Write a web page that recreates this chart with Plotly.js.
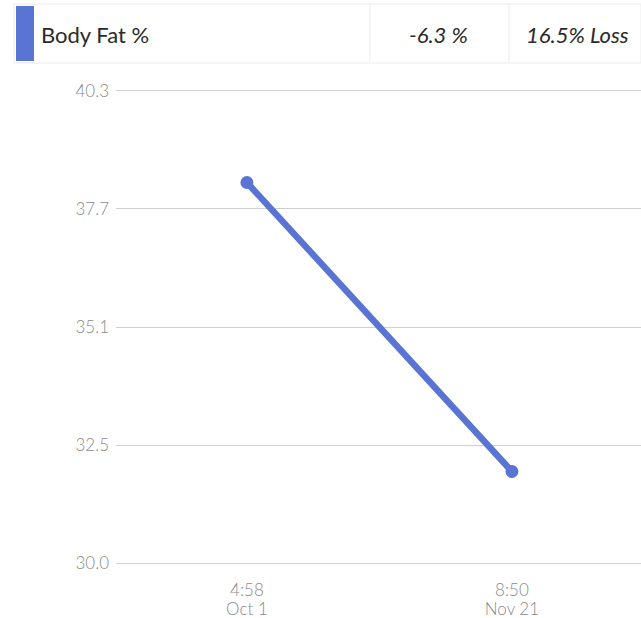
<!DOCTYPE html>
<html>
<head>
<meta charset="utf-8">
<script src="https://cdn.plot.ly/plotly-3.0.1.min.js"></script>
<style>html,body{margin:0;padding:0;background:#fff;}#chart{width:641px;height:618px;}</style>
</head>
<body>
<div id="chart"></div>
<script>
// Data
const times = ["4:58", "8:50"];
const dates = ["Oct 1", "Nov 21"];
const bodyFat = [38.3, 32.0];
const yTickVals = [30.0, 32.575, 35.15, 37.725, 40.3];
const yTickText = ["30.0", "32.5", "35.1", "37.7", "40.3"];
const headerLabel = "Body Fat %";
const headerChange = "-6.3 %";
const headerLoss = "16.5% Loss";

const W = 641, H = 618;
const M = {l: 116, r: 0, t: 88, b: 52};
const pw = W - M.l - M.r, ph = H - M.t - M.b;
const px = x => (x - M.l) / pw;
const py = y => (H - M.b - y) / ph;
const blue = "#5a74d3";
const font = "Lato, 'Open Sans', sans-serif";
const tickFont = {family: font, size: 17, color: "#8a8a8a", weight: 300};
const idx = times.map((_, i) => i);
const xRange = [-0.494, 1.487];

const trace = {
  x: idx, y: bodyFat, type: "scatter", mode: "lines+markers",
  line: {color: blue, width: 6.5},
  marker: {color: blue, size: 13},
  hoverinfo: "skip"
};
const dateTrace = {
  x: idx, y: dates.map(() => null), xaxis: "x2", type: "scatter", mode: "markers",
  hoverinfo: "skip", showlegend: false
};

const layout = {
  width: W, height: H,
  margin: M,
  paper_bgcolor: "#fff", plot_bgcolor: "#fff",
  showlegend: false,
  font: {family: font},
  xaxis: {
    range: xRange, tickvals: idx, ticktext: times,
    showgrid: false, zeroline: false, showline: false,
    ticks: "", tickfont: tickFont, ticklabelstandoff: 12, fixedrange: true
  },
  xaxis2: {
    overlaying: "x", anchor: "y", side: "bottom",
    range: xRange, tickvals: idx, ticktext: dates,
    showgrid: false, zeroline: false, showline: false,
    ticks: "", tickfont: tickFont, ticklabelstandoff: 31, fixedrange: true
  },
  yaxis: {
    range: [29.94, 40.36], tickvals: yTickVals, ticktext: yTickText,
    showgrid: true, gridcolor: "#cfcfcf", gridwidth: 1, zeroline: false, showline: false,
    ticks: "", ticklen: 0, tickfont: tickFont,
    ticklabelstandoff: 6, fixedrange: true
  },
  shapes: [
    {type: "rect", xref: "paper", yref: "paper", x0: px(14), x1: px(641), y0: py(63), y1: py(4),
     line: {color: "#ececec", width: 1}, fillcolor: "rgba(0,0,0,0)"},
    {type: "rect", xref: "paper", yref: "paper", x0: px(16), x1: px(34), y0: py(61), y1: py(6),
     line: {width: 0}, fillcolor: blue},
    {type: "line", xref: "paper", yref: "paper", x0: px(370), x1: px(370), y0: py(63), y1: py(4),
     line: {color: "#ececec", width: 1}},
    {type: "line", xref: "paper", yref: "paper", x0: px(509), x1: px(509), y0: py(63), y1: py(4),
     line: {color: "#ececec", width: 1}}
  ],
  annotations: [
    {xref: "paper", yref: "paper", x: px(39), y: py(34), xanchor: "left", yanchor: "middle",
     text: headerLabel, showarrow: false, font: {family: font, size: 22, color: "#2a2a2a", weight: 400}},
    {xref: "paper", yref: "paper", x: px(438), y: py(34), xanchor: "center", yanchor: "middle",
     text: "<i>" + headerChange + "</i>", showarrow: false, font: {family: font, size: 22, color: "#2a2a2a", weight: 400}},
    {xref: "paper", yref: "paper", x: px(577), y: py(34), xanchor: "center", yanchor: "middle",
     text: "<i>" + headerLoss + "</i>", showarrow: false, font: {family: font, size: 22, color: "#2a2a2a", weight: 400}}
  ]
};

Plotly.newPlot("chart", [trace, dateTrace], layout, {displayModeBar: false, staticPlot: true});
</script>
</body>
</html>
